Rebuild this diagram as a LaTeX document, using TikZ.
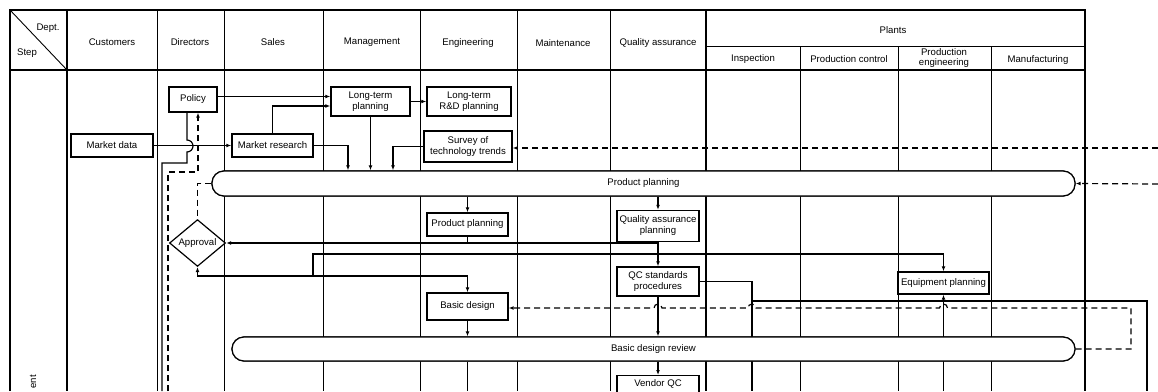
\documentclass[tikz,border=0pt]{standalone}
\usepackage{fontspec}
\setmainfont{Liberation Sans}
\usetikzlibrary{arrows.meta,shapes.geometric}
\newcommand{\boxfont}{\fontsize{9.6}{11}\selectfont}
\begin{document}
\begin{tikzpicture}[x=1pt,y=-1pt,
  lane/.style={line width=0.9pt},
  thicklane/.style={line width=1.4pt},
  border/.style={line width=2.4pt},
  conn/.style={line width=1.2pt, >={Latex[length=5pt,width=3.8pt]}},
  dconn/.style={conn, dash pattern=on 6pt off 4pt},
  box/.style={draw, line width=1.3pt, fill=white, inner sep=0.5pt, align=center, font=\boxfont},
  capsule/.style={draw, line width=1.2pt, fill=white, rounded corners=12pt, font=\boxfont, inner sep=0pt},
  hdr/.style={font=\boxfont, align=center, inner sep=0pt}]
\useasboundingbox (0,0) rectangle (1158,391);
\clip (0,0) rectangle (1158,391);

% ---------- grid ----------
\foreach \x in {157,224,323,420,517,610} \draw[lane] (\x,10) -- (\x,391);
\foreach \x in {800,898,991} \draw[lane] (\x,46) -- (\x,391);
\draw[thicklane] (67,10) -- (67,391);
\draw[thicklane] (706,10) -- (706,391);
\draw[lane] (706,46) -- (1085,46);
\draw[border] (10,391) -- (10,10) -- (1085,10) -- (1085,391);
\draw[border] (10,70) -- (1085,70);
\draw[lane] (10,10) -- (67,70);

% ---------- header ----------
\node[hdr] (hdept) at (48,28) {Dept.};
\node[hdr] (hstep) at (27,53) {Step};
\node[hdr] (hcust) at (112,42) {Customers};
\node[hdr] (hdir) at (190,42) {Directors};
\node[hdr] (hsales) at (273,42) {Sales};
\node[hdr] (hman) at (372,42) {Management};
\node[hdr] (heng) at (468,43) {Engineering};
\node[hdr] (hmain) at (563,43) {Maintenance};
\node[hdr] (hqa) at (658,43) {Quality assurance};
\node[hdr] (hplants) at (893,30) {Plants};
\node[hdr] (hinsp) at (753,59) {Inspection};
\node[hdr] (hpc) at (849,59) {Production control};
\node[hdr, font=\fontsize{9.6}{10}\selectfont] (hpe) at (944,58) {Production\\engineering};
\node[hdr] (hmfg) at (1038,60) {Manufacturing};
\node[hdr, rotate=90, anchor=east] (hstepname) at (33,375) {ent};

% ---------- coordinates ----------
\coordinate (bot) at (0,391);
\coordinate (m1) at (348,0);
\coordinate (m2) at (393,0);
\coordinate (s1) at (187,0);
\coordinate (d1) at (198,0);
\coordinate (r1) at (1158,148);
\coordinate (r2) at (1158,184);
\coordinate (b1) at (0,276);
\coordinate (b2) at (313,276);
\coordinate (b3) at (313,254);
\coordinate (q1) at (752,391);
\coordinate (q2) at (752,301);
\coordinate (q3) at (1147,391);

% ---------- nodes (positions) ----------
\path
  node[box, minimum width=82pt, minimum height=23pt] (mdata) at (112,145.5) {Market data}
  node[box, minimum width=48pt, minimum height=25pt] (policy) at (193,99.5) {Policy}
  node[box, minimum width=81pt, minimum height=23pt] (mres) at (272.5,145.5) {Market research}
  node[box, minimum width=79pt, minimum height=29pt] (ltp) at (370.5,101.5) {Long-term\\planning}
  node[box, minimum width=84pt, minimum height=29pt] (ltrd) at (469,101.5) {Long-term\\R\&D planning}
  node[box, minimum width=88pt, minimum height=31pt] (survey) at (468,146.5) {Survey of\\technology trends}
  node[box, minimum width=81pt, minimum height=23pt] (prodp) at (467.5,224.5) {Product planning}
  node[box, minimum width=82pt, minimum height=31pt] (qap) at (658,226) {Quality assurance\\planning}
  node[diamond, draw, line width=1.2pt, fill=white, font=\boxfont, inner sep=0pt,
       minimum width=56pt, minimum height=44pt] (appr) at (197.5,243) {Approval}
  node[box, minimum width=82pt, minimum height=29pt] (qcs) at (658,281.5) {QC standards\\procedures}
  node[box, minimum width=81pt, minimum height=27pt] (bdes) at (467.5,306.5) {Basic design}
  node[box, minimum width=91pt, minimum height=22pt] (eqp) at (943.5,283) {Equipment planning}
  node[box, anchor=north, minimum width=82pt, text height=10pt, text depth=25pt] (vqc) at (658,375) {Vendor QC}
  node[capsule, minimum width=863pt, minimum height=25pt] (pp) at (643.5,183.5) {}
  node[capsule, minimum width=843pt, minimum height=24pt] (bdr) at (653.5,349) {};

% ---------- connectors ----------
\draw[conn,->] ([yshift=3pt]policy.east) -- ([yshift=3pt]policy.east -| ltp.west);
\draw[conn,->] (mres.north) |- ([yshift=-4.5pt]ltp.west);
\draw[conn,->] (mdata.east) -- (mres.west);
\draw[conn,->] (ltp.east) -- (ltrd.west);
\draw[conn,->] (mres.east) -| (m1 |- pp.north);
\draw[conn,->] (ltp.south) -- (ltp.south |- pp.north);
\draw[conn,->] (survey.west) -| (m2 |- pp.north);
\draw[dconn,->] (r1) -- (r1 -| survey.east);
\draw[dconn,->] (r2) -- (pp.east);

% policy feedback lines
\draw[conn] (s1 |- policy.south) -- (187,140) arc[start angle=90,end angle=-90,radius=6pt]
  -- (187,163) -- (162,163) -- (162,391);
\draw[dconn,->] (168,391) -- (168,172) -- (198,172) -- (d1 |- policy.south);
\draw[dconn] (pp.west) -| (appr.north);

% approval
\draw[conn,->] (qap.south) |- (appr.east);
\draw[conn] (prodp.south) -- (prodp.south |- appr.east);
\draw[conn,<->] (appr.south) |- (b1 -| bdes.north) -- (bdes.north);
\draw[conn,->] (b2) -- (b3) -| (eqp.north);

\draw[conn,->] (prodp.north |- pp.south) -- (prodp.north);
\draw[conn,->] (qap.north |- pp.south) -- (qap.north);
\draw[conn,->] (qap.south) -- (qcs.north);
\draw[conn,->] (qcs.south) -- (qcs.south |- bdr.north);
\draw[conn,->] (vqc.north |- bdr.south) -- (vqc.north);
\draw[conn,->] (bdes.south) -- (bdes.south |- bdr.north);
\draw[conn] (bdes.south |- bdr.south) -- (bdes.south |- bot);
\draw[conn] (qcs.east) -| (q1);
\draw[conn] (q2) -| (q3);
\draw[conn,->] (eqp.south |- bot) -- (eqp.south);

% basic design feedback (dashed, with hops)
\draw[dconn,->] (bdr.east) -- (1131,349) -- (1131,308) -- (947.5,308)
  arc[start angle=0,end angle=180,radius=4pt] -- (756,308)
  arc[start angle=0,end angle=180,radius=4pt] -- (662,308)
  arc[start angle=0,end angle=180,radius=4pt] -- (bdes.east |- 0,308);

% ---------- redraw capsules and boxes on top ----------
\node[capsule, minimum width=863pt, minimum height=25pt] (pp2) at (pp) {Product planning};
\node[capsule, minimum width=843pt, minimum height=24pt] (bdr2) at (bdr) {Basic design review};
\node[box, anchor=north, minimum width=82pt, text height=10pt, text depth=25pt] (vqc2) at (vqc.north) {Vendor QC};
\end{tikzpicture}
\end{document}
